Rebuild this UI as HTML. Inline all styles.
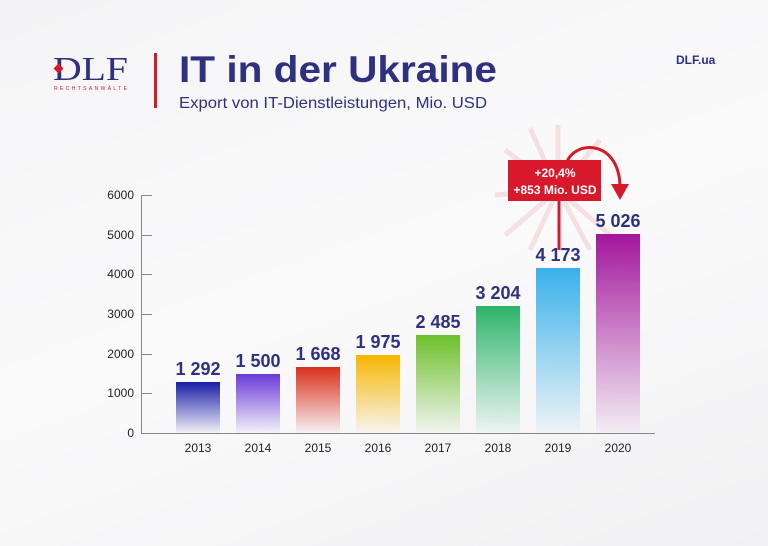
<!DOCTYPE html>
<html><head><style>
body{margin:0;width:768px;height:546px;overflow:hidden;background:linear-gradient(160deg,#f4f4f6 0%,#fafafb 50%,#f1f1f3 100%);font-family:"Liberation Sans",sans-serif;}
</style></head><body>
<svg width="768" height="546" xmlns="http://www.w3.org/2000/svg" style="position:absolute;left:0;top:0">
<defs>
<linearGradient id="g0" x1="0" y1="0" x2="0" y2="1"><stop offset="0" stop-color="#1a1da6"/><stop offset="1" stop-color="#1a1da6" stop-opacity="0.03"/></linearGradient>
<linearGradient id="g1" x1="0" y1="0" x2="0" y2="1"><stop offset="0" stop-color="#6a3ad8"/><stop offset="1" stop-color="#6a3ad8" stop-opacity="0.03"/></linearGradient>
<linearGradient id="g2" x1="0" y1="0" x2="0" y2="1"><stop offset="0" stop-color="#d9301c"/><stop offset="1" stop-color="#d9301c" stop-opacity="0.03"/></linearGradient>
<linearGradient id="g3" x1="0" y1="0" x2="0" y2="1"><stop offset="0" stop-color="#f6b600"/><stop offset="1" stop-color="#f6b600" stop-opacity="0.03"/></linearGradient>
<linearGradient id="g4" x1="0" y1="0" x2="0" y2="1"><stop offset="0" stop-color="#6cbf2a"/><stop offset="1" stop-color="#6cbf2a" stop-opacity="0.03"/></linearGradient>
<linearGradient id="g5" x1="0" y1="0" x2="0" y2="1"><stop offset="0" stop-color="#2db46a"/><stop offset="1" stop-color="#2db46a" stop-opacity="0.03"/></linearGradient>
<linearGradient id="g6" x1="0" y1="0" x2="0" y2="1"><stop offset="0" stop-color="#39b0ea"/><stop offset="1" stop-color="#39b0ea" stop-opacity="0.03"/></linearGradient>
<linearGradient id="g7" x1="0" y1="0" x2="0" y2="1"><stop offset="0" stop-color="#a3169c"/><stop offset="1" stop-color="#a3169c" stop-opacity="0.03"/></linearGradient>
</defs>
<!-- logo -->
<text x="53" y="80" font-family="Liberation Serif,serif" font-size="34" fill="#2e3080" textLength="75" lengthAdjust="spacingAndGlyphs">DLF</text>
<rect x="55" y="65" width="7" height="7" fill="#d8192c" transform="rotate(45 58.5 68.5)"/>
<text x="54" y="90" font-size="5" fill="#d8192c" letter-spacing="1" textLength="74">RECHTSANWÄLTE</text>
<rect x="154" y="53" width="3" height="55" fill="#d8192c"/>
<text x="179" y="82" font-size="37" font-weight="bold" fill="#2e3080" textLength="318" lengthAdjust="spacingAndGlyphs">IT in der Ukraine</text>
<text x="179" y="108" font-size="16" fill="#2e3080" textLength="308" lengthAdjust="spacingAndGlyphs">Export von IT-Dienstleistungen, Mio. USD</text>
<text x="676" y="64" font-size="12" font-weight="bold" fill="#2e3080">DLF.ua</text>
<!-- axes -->
<g stroke="#888" stroke-width="1">
<line x1="141.5" y1="195" x2="141.5" y2="433"/>
<line x1="141" y1="433.5" x2="655" y2="433.5"/>
<line x1="141" y1="195.5" x2="152" y2="195.5"/><line x1="141" y1="235.5" x2="152" y2="235.5"/>
<line x1="141" y1="274.5" x2="152" y2="274.5"/><line x1="141" y1="314.5" x2="152" y2="314.5"/>
<line x1="141" y1="354.5" x2="152" y2="354.5"/><line x1="141" y1="393.5" x2="152" y2="393.5"/>
</g>
<g font-size="12" fill="#222" text-anchor="end">
<text x="134" y="199">6000</text><text x="134" y="239">5000</text><text x="134" y="278">4000</text>
<text x="134" y="318">3000</text><text x="134" y="358">2000</text><text x="134" y="397">1000</text><text x="134" y="437">0</text>
</g>
<!-- sunburst rays -->
<g stroke="#e8334a" stroke-opacity="0.13" stroke-width="5">
<line x1="558" y1="190" x2="558" y2="125"/><line x1="558" y1="190" x2="505" y2="150"/><line x1="558" y1="190" x2="495" y2="195"/>
<line x1="558" y1="190" x2="505" y2="235"/><line x1="558" y1="190" x2="530" y2="250"/><line x1="558" y1="190" x2="590" y2="250"/>
<line x1="558" y1="190" x2="610" y2="235"/><line x1="558" y1="190" x2="600" y2="140"/><line x1="558" y1="190" x2="530" y2="128"/>
</g>
<!-- bars -->
<rect x="176" y="382" width="44" height="51" fill="url(#g0)"/>
<rect x="236" y="374" width="44" height="59" fill="url(#g1)"/>
<rect x="296" y="367" width="44" height="66" fill="url(#g2)"/>
<rect x="356" y="355" width="44" height="78" fill="url(#g3)"/>
<rect x="416" y="335" width="44" height="98" fill="url(#g4)"/>
<rect x="476" y="306" width="44" height="127" fill="url(#g5)"/>
<rect x="536" y="268" width="44" height="165" fill="url(#g6)"/>
<rect x="596" y="234" width="44" height="199" fill="url(#g7)"/>
<g font-size="18" font-weight="bold" fill="#2e3080" text-anchor="middle">
<text x="198" y="375">1 292</text><text x="258" y="367">1 500</text><text x="318" y="360">1 668</text>
<text x="378" y="348">1 975</text><text x="438" y="328">2 485</text><text x="498" y="299">3 204</text>
<text x="558" y="261">4 173</text><text x="618" y="227">5 026</text>
</g>
<g font-size="12" fill="#222" text-anchor="middle">
<text x="198" y="452">2013</text><text x="258" y="452">2014</text><text x="318" y="452">2015</text><text x="378" y="452">2016</text>
<text x="438" y="452">2017</text><text x="498" y="452">2018</text><text x="558" y="452">2019</text><text x="618" y="452">2020</text>
</g>
<!-- annotation -->
<line x1="559" y1="195" x2="559" y2="250" stroke="#d8192c" stroke-width="3"/>
<path d="M566 165 C572 140 618 138 620 185" fill="none" stroke="#d8192c" stroke-width="3"/>
<polygon points="611,184 629,184 620,200" fill="#d8192c"/>
<rect x="508" y="160" width="93" height="41" fill="#d8192c"/>
<g font-size="12" font-weight="bold" fill="#fff" text-anchor="middle">
<text x="555" y="177">+20,4%</text><text x="555" y="194">+853 Mio. USD</text>
</g>
</svg>
</body></html>
